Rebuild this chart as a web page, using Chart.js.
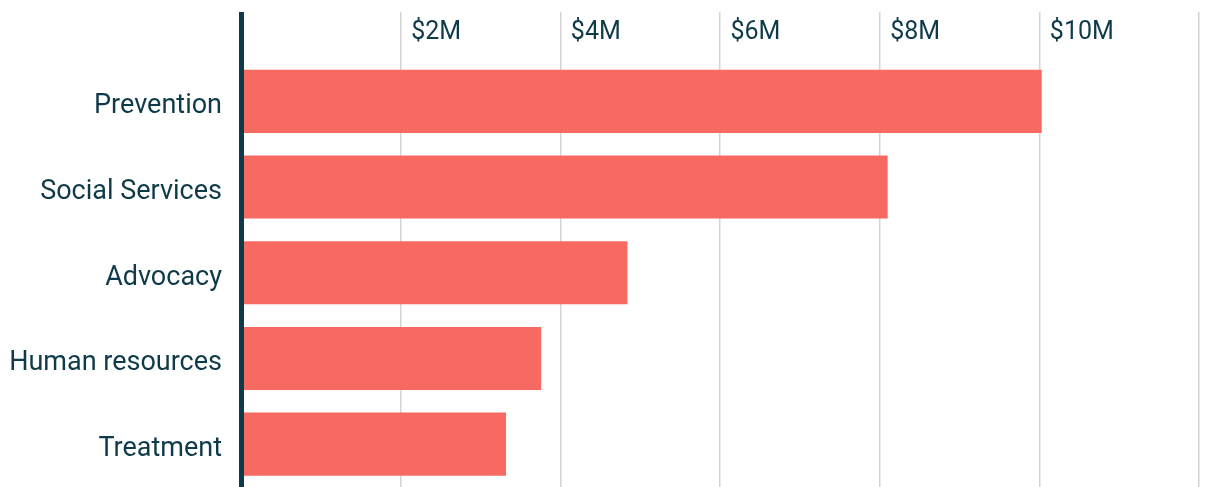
<!DOCTYPE html>
<html><head><meta charset="utf-8">
<script src="https://cdn.jsdelivr.net/npm/chart.js@4/dist/chart.umd.min.js"></script>
<style>html,body{margin:0;padding:0;background:#fff}canvas{display:block}</style>
</head><body>
<canvas id="c" width="1206" height="487"></canvas>
<script>
const categories = ["Prevention", "Social Services", "Advocacy", "Human resources", "Treatment"];
const fundingMillions = [10.03, 8.1, 4.84, 3.76, 3.32];
const tickValues = [0, 2, 4, 6, 8, 10, 12];
const tickLabels = ["", "$2M", "$4M", "$6M", "$8M", "$10M", ""];

const dark = "#0f3a49";
const gridGray = "#d4d4d4";
const FONT = "Roboto";
const BOTTOM_BLEED = -2.5;

new Chart(document.getElementById("c"), {
  type: "bar",
  data: {
    labels: categories,
    datasets: [{
      data: fundingMillions,
      backgroundColor: "#f76a61",
      borderWidth: 0,
      barPercentage: 0.736,
      categoryPercentage: 1
    }]
  },
  options: {
    indexAxis: "y",
    responsive: false,
    animation: false,
    layout: { padding: { top: 12, right: 7, bottom: BOTTOM_BLEED, left: 0 } },
    plugins: { legend: { display: false }, tooltip: { enabled: false } },
    scales: {
      x: {
        position: "top",
        min: 0, max: 12,
        afterBuildTicks: (s) => { s.ticks = tickValues.map(v => ({ value: v })); },
        afterFit: (s) => { s.height = 46.5; s.paddingLeft = 0; s.paddingRight = 0; s.paddingTop = 0; s.paddingBottom = BOTTOM_BLEED; },
        border: { display: false },
        grid: {
          color: (c) => (c.tick && c.tick.value === 0) ? dark : gridGray,
          lineWidth: (c) => (c.tick && c.tick.value === 0) ? 5 : 1.5,
          tickLength: 46.5,
          drawTicks: true
        },
        ticks: {
          align: "start",
          labelOffset: 10.5,
          padding: -36,
          color: dark,
          font: { family: FONT, size: 25 },
          callback: (v) => tickLabels[tickValues.indexOf(v)]
        }
      },
      y: {
        afterFit: (s) => { s.width = 241; s.paddingTop = 0; s.paddingBottom = BOTTOM_BLEED; s.paddingLeft = 0; s.paddingRight = 0; },
        grid: { display: false, drawTicks: false },
        border: { display: true, color: dark, width: 5, z: 1 },
        ticks: {
          padding: 19,
          labelOffset: 5,
          color: dark,
          font: { family: FONT, size: 27 }
        }
      }
    }
  }
});
</script>
</body></html>
